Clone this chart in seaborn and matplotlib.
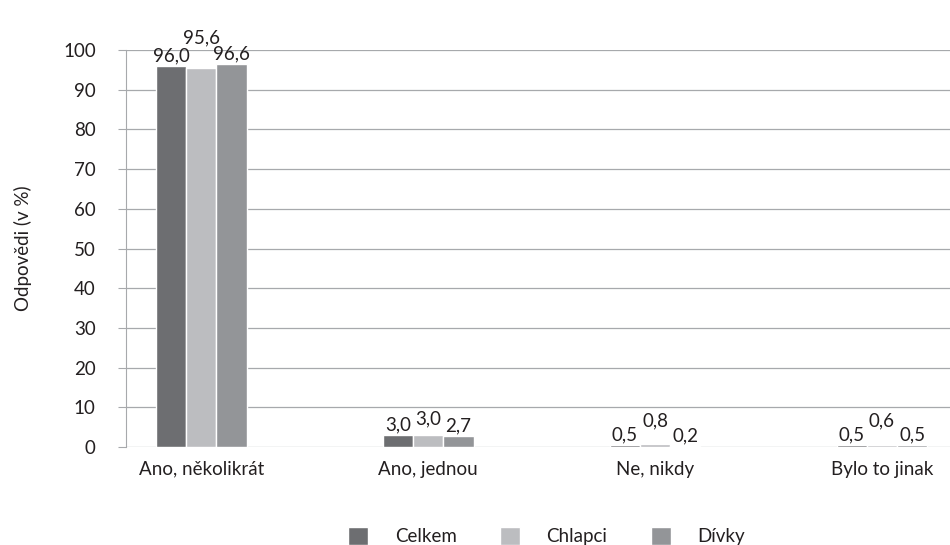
import matplotlib
matplotlib.use('Agg')
import matplotlib.pyplot as plt
import pandas as pd
import seaborn as sns

categories = ['Ano, několikrát', 'Ano, jednou', 'Ne, nikdy', 'Bylo to jinak']
groups = ['Celkem', 'Chlapci', 'Dívky']
celkem = [96.0, 3.0, 0.5, 0.5]
chlapci = [95.6, 3.0, 0.8, 0.6]
divky = [96.6, 2.7, 0.2, 0.5]
colors = ['#6d6e71', '#bcbdc0', '#939598']

df = pd.DataFrame({
    'kategorie': categories * 3,
    'skupina': [g for g in groups for _ in categories],
    'hodnota': celkem + chlapci + divky,
})

sns.set_style('white')
plt.rcParams['font.family'] = ['Lato', 'DejaVu Sans']

fig, ax = plt.subplots(figsize=(9.5, 5.45), dpi=100)
sns.barplot(data=df, x='kategorie', y='hodnota', hue='skupina', order=categories,
            hue_order=groups, palette=colors, width=0.4, saturation=1,
            errorbar=None, ax=ax, zorder=3)

# value labels, the middle one is lifted a bit like in the original
offsets = {'Chlapci': [9, 3, 6, 6]}
for cont, g in zip(ax.containers, groups):
    for i, bar in enumerate(cont):
        v = bar.get_height()
        dy = offsets.get(g, [0, 0, 0, 0])[i]
        ax.annotate(f'{v:.1f}'.replace('.', ','),
                    (bar.get_x() + bar.get_width() / 2, v),
                    xytext=(0, 1 + dy * 1.6), textcoords='offset points',
                    ha='center', va='bottom', fontsize=13.5, color='#231f20', zorder=5)

ax.set_ylim(0, 100)
ax.set_xlim(-0.33, 3.30)
ax.set_yticks(range(0, 101, 10))
ax.yaxis.grid(True, color='#a7a9ac', linewidth=0.9, zorder=0)
ax.tick_params(axis='y', length=6, color='#a7a9ac', labelsize=13.5, labelcolor='#231f20',
               left=True, pad=16)
ax.tick_params(axis='x', length=0, labelsize=13.5, labelcolor='#231f20', pad=10)
for s in ['top', 'right', 'bottom']:
    ax.spines[s].set_visible(False)
ax.spines['left'].set_color('#a7a9ac')
ax.set_xlabel('')
ax.set_ylabel('Odpovědi (v %)', fontsize=13.5, color='#231f20', labelpad=22)

ax.legend(loc='center', bbox_to_anchor=(0.51, -0.225), ncol=3, frameon=False,
          fontsize=13.5, handlelength=1.1, handleheight=1.1, columnspacing=2.3,
          handletextpad=1.4, labelcolor='#231f20')

fig.subplots_adjust(left=0.133, right=1.0, top=0.908, bottom=0.18)
fig.savefig('out.png')
